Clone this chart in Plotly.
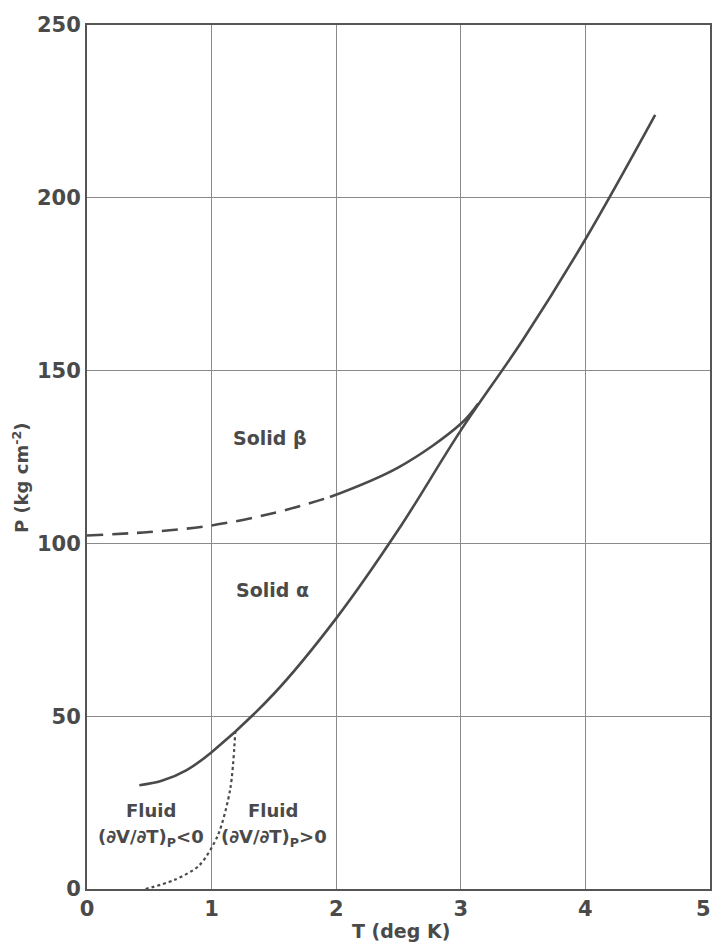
import plotly.graph_objects as go

# Melting curve of He3 (solid line)
melt_T = [0.42, 0.6, 0.8, 1.0, 1.5, 2.0, 2.5, 3.0, 3.5, 4.0, 4.56]
melt_P = [30.0, 31.3, 34.4, 39.6, 56.5, 78.3, 104.0, 132.7, 159.0, 188.0, 224.0]

# Solid alpha / solid beta boundary: extrapolated (dashed) and measured (solid) parts
beta_dash_T = [0.0, 0.5, 1.0, 1.5, 1.95]
beta_dash_P = [102.3, 103.3, 105.2, 108.8, 113.4]
beta_solid_T = [1.95, 2.5, 3.0, 3.14]
beta_solid_P = [113.4, 122.0, 134.6, 140.5]

# Locus of the density maximum in the fluid (dotted)
dmax_T = [0.47, 0.7, 0.9, 1.05, 1.15, 1.19]
dmax_P = [0.0, 2.6, 6.8, 15.5, 29.0, 45.4]

x_ticks = [0, 1, 2, 3, 4, 5]
y_ticks = [0, 50, 100, 150, 200, 250]

# Region labels
label_T = [1.47, 1.49, 0.51, 0.51, 1.49, 1.50]
label_P = [130.6, 86.4, 22.8, 14.8, 22.8, 14.8]
label_text = ["Solid β", "Solid α", "Fluid", "(∂V/∂T)<sub>P</sub><0",
              "Fluid", "(∂V/∂T)<sub>P</sub>>0"]
label_size = [19, 19, 18, 18, 18, 18]

ink = "#4a4a4a"
font_family = "DejaVu Sans"

fig = go.Figure()
fig.add_trace(go.Scatter(x=melt_T, y=melt_P, mode="lines",
                         line=dict(color=ink, width=2.6, shape="spline", smoothing=1.0)))
fig.add_trace(go.Scatter(x=beta_dash_T, y=beta_dash_P, mode="lines",
                         line=dict(color=ink, width=2.6, shape="spline", dash="16px,9px")))
fig.add_trace(go.Scatter(x=beta_solid_T, y=beta_solid_P, mode="lines",
                         line=dict(color=ink, width=2.6, shape="spline")))
fig.add_trace(go.Scatter(x=dmax_T, y=dmax_P, mode="lines",
                         line=dict(color=ink, width=2.2, shape="spline", smoothing=0.8, dash="3px,3px")))
for x, y, t, s in zip(label_T, label_P, label_text, label_size):
    fig.add_annotation(x=x, y=y, text="<b>" + t + "</b>", showarrow=False,
                       font=dict(family=font_family, size=s, color=ink))

# Axis titles
fig.add_annotation(xref="paper", yref="paper", x=0.504, y=-0.049,
                   xanchor="center", yanchor="middle", showarrow=False,
                   text="<b>T (deg K)</b>", font=dict(family=font_family, size=19, color=ink))
fig.add_annotation(xref="paper", yref="paper", x=-0.107, y=0.476,
                   xanchor="center", yanchor="middle", showarrow=False, textangle=-90,
                   text="<b>P (kg cm<sup>-2</sup>)</b>", font=dict(family=font_family, size=18, color=ink))

axis_common = dict(showgrid=True, gridcolor="#8a8a8a", gridwidth=1,
                   showline=True, linecolor="#555555", linewidth=2, mirror=True,
                   ticks="", zeroline=False, ticklabeloverflow="allow", automargin=False,
                   tickfont=dict(family=font_family, size=21, color=ink))

x_text = ["<b>%d</b>" % v for v in x_ticks]
x_text[-1] = x_text[-1] + "\u00a0\u00a0"

fig.update_layout(
    width=713, height=943,
    margin=dict(l=87, r=3, t=25, b=54),
    paper_bgcolor="white", plot_bgcolor="white",
    showlegend=False,
    xaxis=dict(range=[0, 5], tickvals=x_ticks, ticktext=x_text, **axis_common),
    yaxis=dict(range=[0, 250], tickvals=y_ticks, ticktext=["<b>%d</b>" % v for v in y_ticks],
               **axis_common),
)

fig.write_html("out.html")
